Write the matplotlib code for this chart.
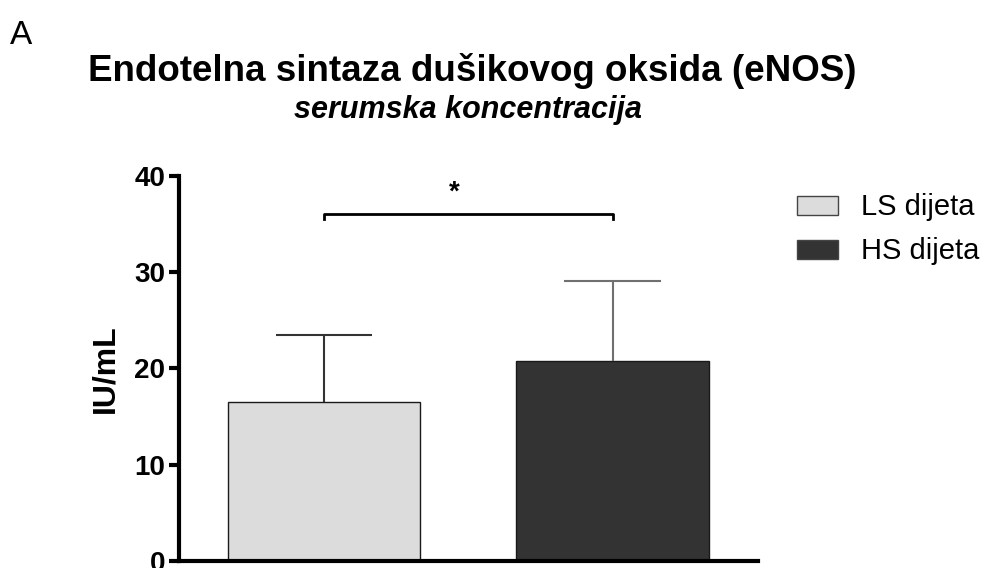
import matplotlib

matplotlib.use("Agg")
import matplotlib.pyplot as plt
from matplotlib.patches import Patch

plt.rcParams["font.family"] = ["Liberation Sans", "DejaVu Sans"]

# data
groups = ["LS dijeta", "HS dijeta"]
means = [16.5, 20.8]
sds = [7.0, 8.3]
bar_colors = ["#dcdcdc", "#333333"]
err_colors = ["#333333", "#707070"]
yticks = [0, 10, 20, 30, 40]
sig_y = 36.0
sig_label = "*"

fig = plt.figure(figsize=(9.89, 5.68), dpi=100)
ax = fig.add_axes([0.181, 0.0123, 0.585, 0.678])

xs = list(range(len(groups)))
width = 0.668
ax.bar(xs, means, width, color=bar_colors, edgecolor="#1a1a1a", linewidth=1.0, zorder=2)

# upward-only error bars
cap = width * 0.25
for x, m, s, c in zip(xs, means, sds, err_colors):
    ax.vlines(x, m, m + s, color=c, lw=1.5, zorder=3)
    ax.hlines(m + s, x - cap, x + cap, color=c, lw=1.5, zorder=3)

# significance bracket
ax.plot([xs[0], xs[0], xs[1], xs[1]], [sig_y - 0.45, sig_y, sig_y, sig_y - 0.45],
        color="black", lw=2, clip_on=False)
ax.text((xs[0] + xs[1]) / 2 - 0.05, sig_y + 0.9, sig_label, ha="center", va="bottom",
        fontsize=20, fontweight="bold")

ax.set_xlim(-0.502, 1.502)
ax.set_ylim(0, 40)
ax.set_yticks(yticks)
ax.set_xticks([])
for sp in ["top", "right"]:
    ax.spines[sp].set_visible(False)
for sp in ["left", "bottom"]:
    ax.spines[sp].set_linewidth(3)
ax.tick_params(axis="y", direction="out", length=7, width=3, labelsize=20, pad=3)
for lab in ax.get_yticklabels():
    lab.set_fontweight("bold")
ax.set_ylabel("IU/mL", fontsize=23, fontweight="bold", labelpad=10)

handles = [Patch(facecolor=c, edgecolor="#444444", lw=1.0) for c in bar_colors]
fig.legend(handles, groups, loc="upper left", bbox_to_anchor=(0.794, 0.68), frameon=False,
           fontsize=21, handlelength=1.4, handleheight=0.62, handletextpad=0.8,
           labelspacing=0.55, borderaxespad=0)

fig.text(0.01, 0.965, "A", fontsize=24, ha="left", va="top")
fig.text(0.477, 0.858, "Endotelna sintaza dušikovog oksida (eNOS)", fontsize=26.5,
         fontweight="bold", ha="center", va="baseline")
fig.text(0.473, 0.792, "serumska koncentracija", fontsize=22, fontweight="bold",
         style="italic", ha="center", va="baseline")

fig.savefig("out.png", dpi=100)
